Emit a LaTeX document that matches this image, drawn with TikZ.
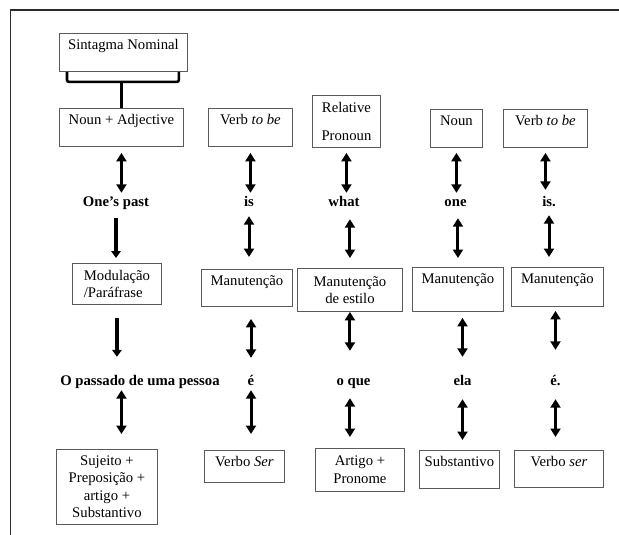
\documentclass[tikz,border=0pt]{standalone}
\usepackage{fontspec}
\setmainfont{Liberation Serif}
\usetikzlibrary{arrows.meta}
\definecolor{boxline}{HTML}{5A5A5A}
\definecolor{frameline}{HTML}{2A2A2A}
\begin{document}
\begin{tikzpicture}[x=1pt,y=-1pt,
  every node/.style={font=\fontsize{14.7}{17.5}\selectfont},
  box/.style={draw=boxline, line width=0.9pt, inner sep=0pt, anchor=north west},
  tbox/.style={box, text height=16.5pt},
  mbox/.style={box, align=center},
  lbl/.style={font=\fontsize{14.7}{17.5}\selectfont\bfseries, inner sep=0pt, text height=10pt, text depth=3pt},
  dbl/.style={line width=3pt, {Triangle[length=8.5pt,width=10pt]}-{Triangle[length=8.5pt,width=10pt]}},
  sgl/.style={line width=3.4pt, -{Triangle[length=7pt,width=9.5pt]}},
  brk/.style={line width=2.6pt, rounded corners=2pt}]
\useasboundingbox (0,0) rectangle (619,535);

% outer frame
\draw[frameline, line width=1.6pt] (10.5,535) -- (10.5,10) -- (619,10);

% boxes, top row
\node[tbox, minimum width=128pt, text depth=21.5pt] (sintagma) at (59,33) {Sintagma Nominal};
\node[tbox, minimum width=124pt, text depth=21.5pt] (nounadj) at (59,108) {Noun + Adjective};
\node[tbox, minimum width=84pt, text depth=21.5pt] (verb1) at (208,108) {Verb \textit{to be}};
\node[mbox, minimum width=68pt, minimum height=52pt, font=\fontsize{14.7}{28}\selectfont] (relpron) at (312,95) {Relative\\Pronoun};
\node[tbox, minimum width=52pt, text depth=21.5pt] (noun) at (430,109) {Noun};
\node[tbox, minimum width=84pt, text depth=21.5pt] (verb2) at (503,109) {Verb \textit{to be}};

% boxes, middle row
\node[box, align=left, minimum width=89pt, minimum height=41pt] (modul) at (72,263) {Modulação\\/Paráfrase};
\node[tbox, minimum width=91pt, text depth=20.5pt] (manut2) at (201,269) {Manutenção};
\node[mbox, minimum width=105pt, minimum height=43pt, font=\fontsize{14.7}{16.5}\selectfont] (manutest) at (297,268) {Manutenção\\de estilo};
\node[tbox, minimum width=91pt, text depth=27.5pt] (manut4) at (412,267) {Manutenção};
\node[tbox, minimum width=92pt, text depth=22.5pt] (manut5) at (511,267) {Manutenção};

% boxes, bottom row
\node[mbox, minimum width=101pt, minimum height=75pt] (sujeito) at (56,449) {Sujeito +\\Preposição +\\artigo +\\Substantivo};
\node[tbox, minimum width=80pt, text depth=15.5pt] (verboSer) at (204,450) {Verbo \textit{Ser}};
\node[mbox, minimum width=89pt, minimum height=43pt] (artigo) at (315,448) {Artigo +\\Pronome};
\node[tbox, minimum width=80pt, text depth=21.5pt] (substantivo) at (419,450) {Substantivo};
\node[tbox, minimum width=89pt, text depth=20.5pt] (verboser) at (514,450) {Verbo \textit{ser}};

% English sentence
\node[lbl] (onespast) at (116,203) {One’s past};
\node[lbl] (is1) at (249,203) {is};
\node[lbl] (what) at (344,203) {what};
\node[lbl] (one) at (455.5,203) {one};
\node[lbl] (is2) at (549,203) {is.};

% Portuguese sentence
\node[lbl] (opassado) at (140,381.5) {O passado de uma pessoa};
\node[lbl] (e1) at (251,381.5) {é};
\node[lbl] (oque) at (353.5,381.5) {o que};
\node[lbl] (ela) at (462.5,381.5) {ela};
\node[lbl] (e2) at (555.5,381.5) {é.};

% bracket joining the noun phrase to its parts
\draw[brk] ([xshift=8pt]sintagma.south west) |- ([yshift=-10pt]sintagma.south) -| ([xshift=-9pt]sintagma.south east);
\draw[brk] ([yshift=-10pt]sintagma.south -| nounadj.north) -- (nounadj.north);

% categories -> English words
\draw[dbl, shorten <=6pt, shorten >=3.5pt] (nounadj.south) -- (nounadj.south |- onespast.north);
\draw[dbl, shorten <=6pt, shorten >=3.5pt] (verb1.south) -- (verb1.south |- is1.north);
\draw[dbl, shorten <=5pt, shorten >=3.5pt] (relpron.south) -- (relpron.south |- what.north);
\draw[dbl, shorten <=5pt, shorten >=3.5pt] (noun.south) -- (noun.south |- one.north);
\draw[dbl, shorten <=5pt, shorten >=6.5pt] (verb2.south) -- (verb2.south |- is2.north);

% English words -> procedures
\draw[sgl, shorten <=8.5pt, shorten >=5pt] (onespast.south) -- (onespast.south |- modul.north);
\draw[dbl, shorten <=6.5pt, shorten >=12pt] (is1.south) -- (is1.south |- manut2.north);
\draw[dbl, shorten <=9.5pt, shorten >=10pt] (what.south -| manutest.north) -- (manutest.north);
\draw[dbl, shorten <=8.5pt, shorten >=9pt] (one.south -| manut4.north) -- (manut4.north);
\draw[dbl, shorten <=5.5pt, shorten >=10pt] (is2.south) -- (is2.south |- manut5.north);

% procedures -> Portuguese words
\draw[sgl, shorten <=13pt, shorten >=18pt] (modul.south) -- (modul.south |- opassado.north);
\draw[dbl, shorten <=12pt, shorten >=17pt] (e1.north |- manut2.south) -- (e1.north);
\draw[dbl, shorten >=24pt] (manutest.south) -- (manutest.south |- oque.north);
\draw[dbl, shorten <=6pt, shorten >=18pt] (ela.north |- manut4.south) -- (ela.north);
\draw[dbl, shorten <=4pt, shorten >=25pt] (e2.north |- manut5.south) -- (e2.north);

% Portuguese words -> categories
\draw[dbl, shorten <=2pt, shorten >=15pt] (opassado.south -| nounadj.south) -- (nounadj.south |- sujeito.north);
\draw[dbl, shorten <=2pt, shorten >=16pt] (e1.south) -- (e1.south |- verboSer.north);
\draw[dbl, shorten <=10pt, shorten >=11pt] (manutest.south |- oque.south) -- (manutest.south |- artigo.north);
\draw[dbl, shorten <=11pt, shorten >=10pt] (ela.south) -- (ela.south |- substantivo.north);
\draw[dbl, shorten <=11pt, shorten >=13pt] (e2.south) -- (e2.south |- verboser.north);
\end{tikzpicture}
\end{document}
